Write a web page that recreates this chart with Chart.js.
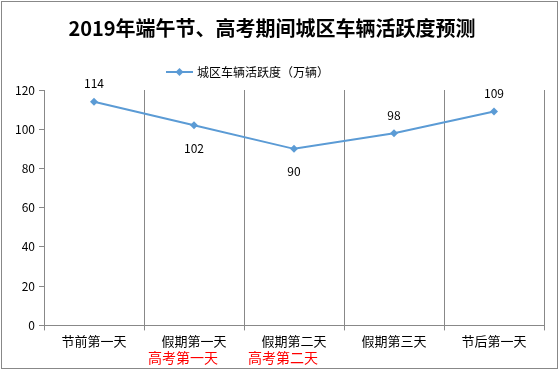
<!DOCTYPE html>
<html>
<head>
<meta charset="utf-8">
<script src="https://cdn.jsdelivr.net/npm/chart.js@4"></script>
<style>
body { margin: 0; background: #fff; }
#wrap { position: relative; width: 560px; height: 370px; }
#frame { position: absolute; left: 1px; top: 1px; width: 555px; height: 366px; border: 1px solid #888; pointer-events: none; }
</style>
</head>
<body>
<div id="wrap">
  <canvas id="chart" width="560" height="370"></canvas>
  <div id="frame"></div>
</div>
<script>
const chartTitle = '2019年端午节、高考期间城区车辆活跃度预测';
const seriesName = '城区车辆活跃度（万辆）';
const days = ['节前第一天', '假期第一天', '假期第二天', '假期第三天', '节后第一天'];
const activity = [114, 102, 90, 98, 109];
const labelSide = ['above', 'below', 'below', 'above', 'above'];
const examDays = ['', '高考第一天', '高考第二天', '', ''];
const yTicks = [0, 20, 40, 60, 80, 100, 120];

const FONT = '"Noto Sans CJK SC", "Noto Sans", sans-serif';
const BLUE = '#5B9BD5';
const GREY = '#888888';

// value labels next to each point
const pointLabels = {
    id: 'pointLabels',
    afterDatasetsDraw(chart) {
        const ctx = chart.ctx;
        const meta = chart.getDatasetMeta(0);
        ctx.save();
        ctx.font = '12px ' + FONT;
        ctx.fillStyle = '#000';
        ctx.textAlign = 'center';
        ctx.textBaseline = 'middle';
        meta.data.forEach((pt, i) => {
            const dy = labelSide[i] === 'above' ? -18 : 23;
            ctx.fillText(String(activity[i]), pt.x, pt.y + dy);
        });
        ctx.restore();
    }
};

// red exam-day notes under the category labels
const examLabels = {
    id: 'examLabels',
    afterDraw(chart) {
        const ctx = chart.ctx;
        const x = chart.scales.x;
        ctx.save();
        ctx.font = '14px ' + FONT;
        ctx.fillStyle = '#FF0000';
        ctx.textAlign = 'center';
        ctx.textBaseline = 'middle';
        examDays.forEach((t, i) => {
            if (t) ctx.fillText(t, x.getPixelForValue(i) - 11, 358);
        });
        ctx.restore();
    }
};

// legend: line with diamond marker, then series name
const lineLegend = {
    id: 'lineLegend',
    afterDraw(chart) {
        const ctx = chart.ctx;
        const y = 72;
        ctx.save();
        ctx.strokeStyle = BLUE;
        ctx.lineWidth = 2;
        ctx.beginPath();
        ctx.moveTo(166, y);
        ctx.lineTo(193, y);
        ctx.stroke();
        ctx.fillStyle = BLUE;
        ctx.beginPath();
        ctx.moveTo(179.5, y - 4);
        ctx.lineTo(183.5, y);
        ctx.lineTo(179.5, y + 4);
        ctx.lineTo(175.5, y);
        ctx.closePath();
        ctx.fill();
        ctx.font = '12px ' + FONT;
        ctx.fillStyle = '#000';
        ctx.textAlign = 'left';
        ctx.textBaseline = 'middle';
        ctx.fillText(seriesName, 197, y);
        ctx.restore();
    }
};

new Chart(document.getElementById('chart'), {
    type: 'line',
    data: {
        labels: days,
        datasets: [{
            label: seriesName,
            data: activity,
            borderColor: BLUE,
            backgroundColor: BLUE,
            borderWidth: 2,
            pointStyle: 'rectRot',
            pointRadius: 4,
            pointBorderWidth: 0,
            tension: 0
        }]
    },
    options: {
        responsive: false,
        animation: false,
        layout: { padding: { right: 16, bottom: 18 } },
        plugins: {
            legend: { display: false },
            tooltip: { enabled: false },
            title: {
                display: true,
                text: chartTitle,
                color: '#000',
                font: { family: FONT, size: 20, weight: 'bold' },
                padding: { top: 16, bottom: 50 }
            }
        },
        scales: {
            x: {
                offset: true,
                grid: { offset: true, color: GREY, tickLength: 5, drawTicks: true },
                border: { color: GREY },
                ticks: { color: '#000', font: { family: FONT, size: 13 }, padding: 3, maxRotation: 0 }
            },
            y: {
                min: 0,
                max: 120,
                afterBuildTicks: s => { s.ticks = yTicks.map(v => ({ value: v })); },
                afterFit: s => { s.width = 44; },
                grid: { drawOnChartArea: false, color: GREY, tickLength: 5 },
                border: { color: GREY },
                ticks: { color: '#000', font: { family: FONT, size: 12 }, padding: 4 }
            }
        }
    },
    plugins: [pointLabels, examLabels, lineLegend]
});
</script>
</body>
</html>
